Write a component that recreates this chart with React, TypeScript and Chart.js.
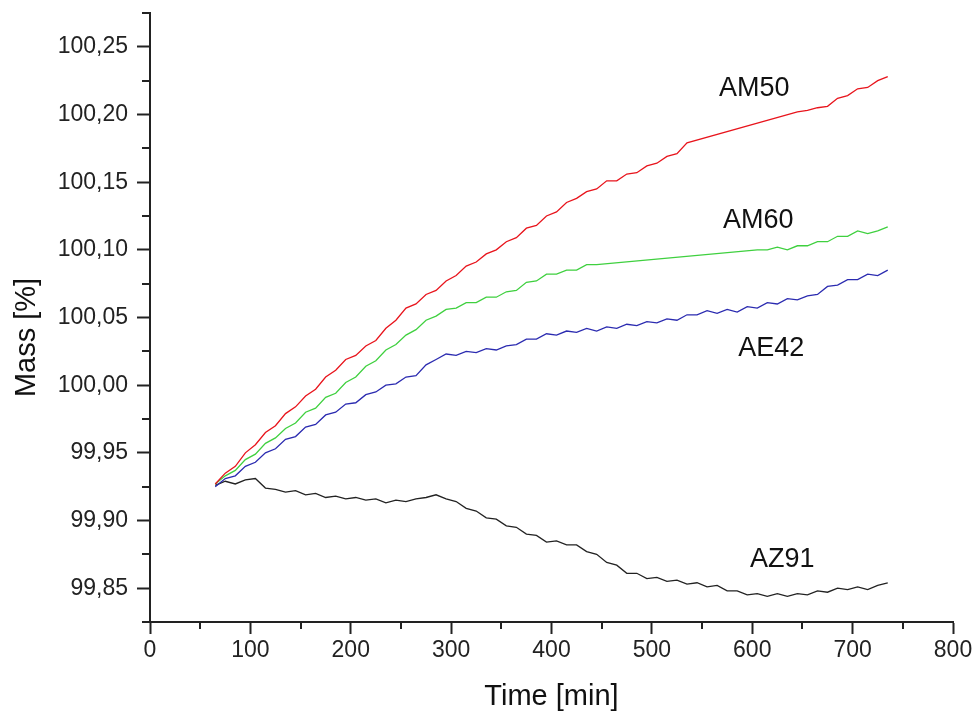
import React, { useEffect, useRef } from 'react';
import { Chart, registerables } from 'chart.js';

Chart.register(...registerables);

const time = [
  65, 75, 85, 95, 105, 115, 125, 135, 145, 155, 165, 175, 185, 195, 205, 215, 225, 235, 245, 255,
  265, 275, 285, 295, 305, 315, 325, 335, 345, 355, 365, 375, 385, 395, 405, 415, 425, 435, 445, 455,
  465, 475, 485, 495, 505, 515, 525, 535, 545, 555, 565, 575, 585, 595, 605, 615, 625, 635, 645, 655,
  665, 675, 685, 695, 705, 715, 725, 735,
];

const am50 = [
  99.927, 99.935, 99.94, 99.95, 99.956, 99.965, 99.97, 99.979, 99.984, 99.992, 99.997, 100.006, 100.011, 100.019, 100.022, 100.029, 100.033, 100.042, 100.048, 100.057,
  100.06, 100.067, 100.07, 100.077, 100.081, 100.088, 100.091, 100.097, 100.1, 100.106, 100.109, 100.116, 100.118, 100.125, 100.128, 100.135, 100.138, 100.143, 100.145, 100.151,
  100.151, 100.156, 100.157, 100.162, 100.164, 100.169, 100.171, 100.179, null, null, null, null, null, null, null, null, null, null, 100.202, 100.203,
  100.205, 100.206, 100.212, 100.214, 100.219, 100.22, 100.225, 100.228,
];

const am60 = [
  99.927, 99.933, 99.937, 99.945, 99.949, 99.957, 99.961, 99.968, 99.972, 99.98, 99.983, 99.991, 99.994, 100.002, 100.006, 100.014, 100.018, 100.026, 100.03, 100.037,
  100.041, 100.048, 100.051, 100.056, 100.057, 100.061, 100.061, 100.065, 100.065, 100.069, 100.07, 100.076, 100.077, 100.082, 100.082, 100.085, 100.085, 100.089, 100.089, null,
  null, null, null, null, null, null, null, null, null, null, null, null, null, null, 100.1, 100.1, 100.102, 100.1, 100.103, 100.103,
  100.106, 100.106, 100.11, 100.11, 100.114, 100.112, 100.114, 100.117,
];

const ae42 = [
  99.925, 99.931, 99.933, 99.94, 99.943, 99.95, 99.953, 99.96, 99.962, 99.969, 99.971, 99.978, 99.98, 99.986, 99.987, 99.993, 99.995, 100.0, 100.001, 100.006,
  100.007, 100.015, 100.019, 100.023, 100.022, 100.025, 100.024, 100.027, 100.026, 100.029, 100.03, 100.034, 100.034, 100.038, 100.037, 100.04, 100.039, 100.042, 100.04, 100.043,
  100.042, 100.045, 100.044, 100.047, 100.046, 100.049, 100.048, 100.052, 100.052, 100.055, 100.053, 100.056, 100.054, 100.058, 100.057, 100.061, 100.06, 100.064, 100.063, 100.066,
  100.067, 100.073, 100.074, 100.078, 100.078, 100.082, 100.081, 100.085,
];

const az91 = [
  99.926, 99.929, 99.927, 99.93, 99.931, 99.924, 99.923, 99.921, 99.922, 99.919, 99.92, 99.917, 99.918, 99.916, 99.917, 99.915, 99.916, 99.913, 99.915, 99.914,
  99.916, 99.917, 99.919, 99.916, 99.914, 99.909, 99.907, 99.902, 99.901, 99.896, 99.895, 99.89, 99.889, 99.884, 99.885, 99.882, 99.882, 99.877, 99.875, 99.869,
  99.867, 99.861, 99.861, 99.857, 99.858, 99.855, 99.856, 99.853, 99.854, 99.851, 99.852, 99.848, 99.848, 99.845, 99.846, 99.844, 99.846, 99.844, 99.846, 99.845,
  99.848, 99.847, 99.85, 99.849, 99.851, 99.849, 99.852, 99.854,
];

const seriesNames = ['AM50', 'AM60', 'AE42', 'AZ91'];
const seriesValues = [am50, am60, ae42, az91];
const seriesColors = ['#e8141c', '#3fd03f', '#2b2bb0', '#222222'];

const xMinorTicks = [50, 150, 250, 350, 450, 550, 650, 750];
const yMajorTicks = [99.85, 99.9, 99.95, 100.0, 100.05, 100.1, 100.15, 100.2, 100.25];
const yMinorTicks = [99.825, 99.875, 99.925, 99.975, 100.025, 100.075, 100.125, 100.175, 100.225, 100.275];

const labelNames = ['AM50', 'AM60', 'AE42', 'AZ91'];
const labelX = [602, 606, 619, 630];
const labelY = [100.219, 100.122, 100.027, 99.871];

const FONT = '"Liberation Sans", Arial, Helvetica, sans-serif';
const INK = '#222222';

export default function App() {
  const ref = useRef<HTMLCanvasElement>(null);

  useEffect(() => {
    if (!ref.current) return;

    const extras = {
      id: 'extras',
      afterDraw(chart: any) {
        const { ctx, chartArea } = chart;
        const xs = chart.scales.x;
        const ys = chart.scales.y;
        ctx.save();
        ctx.strokeStyle = INK;
        ctx.lineWidth = 2;
        ctx.beginPath();
        xMinorTicks.forEach((v) => {
          const px = Math.round(xs.getPixelForValue(v));
          ctx.moveTo(px, chartArea.bottom);
          ctx.lineTo(px, chartArea.bottom + 7);
        });
        yMinorTicks.forEach((v) => {
          const py = Math.round(ys.getPixelForValue(v));
          ctx.moveTo(chartArea.left, py);
          ctx.lineTo(chartArea.left - 8, py);
        });
        ctx.stroke();

        ctx.fillStyle = '#111';
        ctx.font = `27px ${FONT}`;
        ctx.textAlign = 'center';
        ctx.textBaseline = 'middle';
        labelNames.forEach((n, i) => {
          ctx.fillText(n, xs.getPixelForValue(labelX[i]), ys.getPixelForValue(labelY[i]));
        });

        ctx.save();
        ctx.translate(27, (chartArea.top + chartArea.bottom) / 2 + 20);
        ctx.rotate(-Math.PI / 2);
        ctx.font = `29px ${FONT}`;
        ctx.fillText('Mass [%]', 0, 0);
        ctx.restore();
        ctx.restore();
      },
    };

    const chart = new Chart(ref.current, {
      type: 'line',
      data: {
        datasets: seriesNames.map((name, s) => ({
          label: name,
          data: time.map((t, i) => ({ x: t, y: seriesValues[s][i] })),
          borderColor: seriesColors[s],
          backgroundColor: seriesColors[s],
          borderWidth: 1.3,
          pointRadius: 0,
          tension: 0,
          spanGaps: true,
          fill: false,
        })),
      },
      options: {
        animation: false,
        responsive: false,
        devicePixelRatio: 1,
        layout: { padding: { top: 13, right: 24, bottom: 0, left: 0 } },
        plugins: {
          legend: { display: false },
          tooltip: { enabled: false },
        },
        scales: {
          x: {
            type: 'linear',
            min: 0,
            max: 800,
            afterFit: (scale: any) => {
              scale.height = 93;
              scale.paddingLeft = 0;
              scale.paddingRight = 0;
            },
            ticks: {
              stepSize: 100,
              color: INK,
              font: { family: FONT, size: 23 },
              padding: 3,
              maxRotation: 0,
            },
            grid: {
              drawOnChartArea: false,
              drawTicks: true,
              tickLength: 12,
              tickWidth: 2,
              tickColor: INK,
              color: INK,
            },
            border: { display: true, color: INK, width: 2 },
            title: {
              display: true,
              text: 'Time [min]',
              color: '#111',
              font: { family: FONT, size: 29 },
              padding: { top: 0, bottom: 1 },
            },
          },
          y: {
            type: 'linear',
            min: 99.825,
            max: 100.275,
            afterFit: (scale: any) => {
              scale.width = 150;
              scale.paddingTop = 0;
              scale.paddingBottom = 0;
            },
            afterBuildTicks: (scale: any) => {
              scale.ticks = yMajorTicks.map((v) => ({ value: v }));
            },
            ticks: {
              color: INK,
              font: { family: FONT, size: 23 },
              padding: 9,
              callback: (v: any) => Number(v).toFixed(2).replace('.', ','),
            },
            grid: {
              drawOnChartArea: false,
              drawTicks: true,
              tickLength: 13,
              tickWidth: 2,
              tickColor: INK,
              color: INK,
            },
            border: { display: true, color: INK, width: 2 },
          },
        },
      },
      plugins: [extras],
    });

    return () => chart.destroy();
  }, []);

  return (
    <div style={{ position: 'fixed', left: 0, top: 0, width: 977, height: 715, background: '#fff' }}>
      <canvas ref={ref} width={977} height={715} style={{ display: 'block', width: 977, height: 715 }} />
    </div>
  );
}
